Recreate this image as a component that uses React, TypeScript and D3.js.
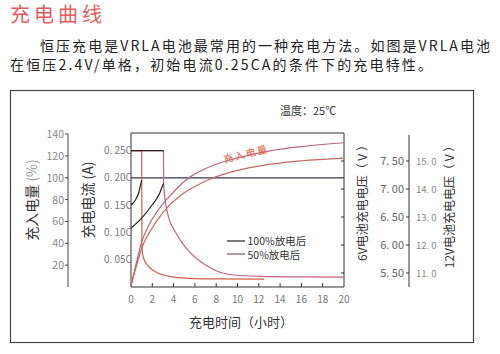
import React, { useEffect, useRef } from 'react';
import * as d3 from 'd3';

const W = 500;
const H = 354;
const FONT = '"Noto Sans CJK SC", "Noto Sans", sans-serif';

// tick values
const hourTicks = [0, 2, 4, 6, 8, 10, 12, 14, 16, 18, 20];
const chargeTicks = [20, 40, 60, 80, 100, 120, 140];
const currentTicks = [0.05, 0.1, 0.15, 0.2, 0.25];
const volt6Ticks = [5.5, 6.0, 6.5, 7.0, 7.5];
const volt12Ticks = [11, 12, 13, 14, 15];

// charged amount (%) vs hours
const chargeA: [number, number][] = [
  [0, 1], [0.5, 22], [1.0, 41], [1.65, 56], [2.3, 67], [3.07, 77], [3.73, 84], [4.5, 92],
  [5.3, 99], [6.5, 106], [7.5, 110.5], [9, 115.5], [11.3, 121], [13, 124.5], [16, 128.5], [20, 132]
];
const chargeB: [number, number][] = [
  [0, 1], [0.5, 19], [1.0, 35.5], [1.96, 53.5], [3.07, 69], [4.67, 84], [6, 92], [7.5, 99],
  [9.7, 106], [12.8, 112], [16, 115.5], [20, 118]
];

// charge current (CA) vs hours
const current50: [number, number][] = [
  [0, 0.25], [1.0, 0.25], [1.03, 0.07], [1.3, 0.047], [2.3, 0.028], [3.5, 0.02],
  [5.4, 0.016], [8, 0.015], [12.5, 0.0145]
];
const current100: [number, number][] = [
  [0, 0.25], [3.05, 0.25], [3.07, 0.185], [3.5, 0.13], [4.2, 0.1], [5.1, 0.073], [6.3, 0.05],
  [7.2, 0.038], [8.1, 0.029], [9.7, 0.022], [12.2, 0.0195], [16, 0.0185], [20, 0.018]
];

// 6V battery voltage vs hours
const voltage50: [number, number][] = [[0, 6.71], [0.4, 6.8], [0.7, 6.92], [1.0, 7.16]];
const voltage100: [number, number][] = [[0, 6.3], [1.0, 6.48], [1.96, 6.71], [2.6, 6.89], [3.05, 7.1]];
const voltageCV: [number, number][] = [[0, 7.2], [20, 7.2]];

const legendItems = ['100%放电后', '50%放电后'];

const ChargeChart: React.FC = () => {
  const svgRef = useRef<SVGSVGElement>(null);

  useEffect(() => {
    if (!svgRef.current) return;
    const svg = d3.select(svgRef.current);
    svg.selectAll('*').remove();

    const x = d3.scaleLinear().domain([0, 20]).range([131, 344]);
    const yCharge = d3.scaleLinear().domain([0, 140]).range([287, 134]);
    const yCurrent = d3.scaleLinear().domain([0, 0.25]).range([287, 150.7]);
    const yV6 = d3.scaleLinear().domain([5.5, 7.5]).range([273, 161]);
    const yV12 = d3.scaleLinear().domain([11, 15]).range([273, 161]);

    // header texts
    svg.append('text')
      .attr('x', 10).attr('y', 22)
      .attr('textLength', 92).attr('lengthAdjust', 'spacing')
      .style('font-size', '20px').style('fill', '#e05c60')
      .text('充电曲线');
    svg.append('text')
      .attr('x', 40).attr('y', 51)
      .attr('textLength', 450).attr('lengthAdjust', 'spacing')
      .style('font-size', '14px').style('fill', '#222')
      .text('恒压充电是VRLA电池最常用的一种充电方法。如图是VRLA电池');
    svg.append('text')
      .attr('x', 10).attr('y', 70)
      .attr('textLength', 422).attr('lengthAdjust', 'spacing')
      .style('font-size', '14px').style('fill', '#222')
      .text('在恒压2.4V/单格，初始电流0.25CA的条件下的充电特性。');

    // outer frame
    svg.append('rect')
      .attr('x', 10.5).attr('y', 90.5).attr('width', 463).attr('height', 252)
      .style('fill', 'none').style('stroke', '#444').style('stroke-width', 1.2);

    svg.append('text')
      .attr('x', 280).attr('y', 115)
      .style('font-size', '11px').style('fill', '#333')
      .text('温度：25℃');

    // plot box
    const box = svg.append('g').style('stroke', '#333').style('stroke-width', 1);
    box.append('line').attr('x1', x(0)).attr('x2', x(20)).attr('y1', 133).attr('y2', 133);
    box.append('line').attr('x1', x(0)).attr('x2', x(0)).attr('y1', 133).attr('y2', 287);
    box.append('line').attr('x1', x(20)).attr('x2', x(20)).attr('y1', 133).attr('y2', 287);
    box.append('line').attr('x1', x(0)).attr('x2', x(20)).attr('y1', 287).attr('y2', 287);

    // x ticks + labels
    svg.append('g').selectAll('line')
      .data(hourTicks.filter(d => d > 0 && d < 20))
      .join('line')
      .attr('x1', d => x(d)).attr('x2', d => x(d))
      .attr('y1', 287).attr('y2', 283)
      .style('stroke', '#333');
    svg.append('g').selectAll('text')
      .data(hourTicks)
      .join('text')
      .attr('x', d => x(d)).attr('y', 303)
      .attr('text-anchor', 'middle')
      .style('font-size', '10px').style('fill', '#777')
      .text(d => String(d));
    svg.append('text')
      .attr('x', 241).attr('y', 327)
      .attr('text-anchor', 'middle')
      .style('font-size', '13px').style('fill', '#333')
      .text('充电时间（小时）');

    // right side ticks of plot box
    svg.append('g').selectAll('line')
      .data(volt6Ticks)
      .join('line')
      .attr('x1', x(20) - 3).attr('x2', x(20))
      .attr('y1', d => yV6(d)).attr('y2', d => yV6(d))
      .style('stroke', '#333');

    // charge % axis
    const left = svg.append('g');
    left.append('line')
      .attr('x1', 68).attr('x2', 68).attr('y1', yCharge(140)).attr('y2', 287)
      .style('stroke', '#444');
    left.selectAll('line.t')
      .data(chargeTicks)
      .join('line')
      .attr('class', 't')
      .attr('x1', 65).attr('x2', 68)
      .attr('y1', d => yCharge(d)).attr('y2', d => yCharge(d))
      .style('stroke', '#444');
    left.selectAll('text')
      .data(chargeTicks)
      .join('text')
      .attr('x', 64).attr('y', d => yCharge(d) + 4)
      .attr('text-anchor', 'end')
      .style('font-size', '10.5px').style('fill', '#888')
      .text(d => String(d));
    const chargeLabel = svg.append('text')
      .attr('transform', 'translate(37,200) rotate(-90)')
      .attr('text-anchor', 'middle')
      .style('font-size', '14px').style('fill', '#333');
    chargeLabel.append('tspan').text('充入电量 ');
    chargeLabel.append('tspan').style('fill', '#999').text('(%)');

    // current axis labels
    svg.append('g').selectAll('text')
      .data(currentTicks)
      .join('text')
      .attr('x', x(0) + 1).attr('y', d => yCurrent(d) + 3.5)
      .attr('text-anchor', 'end')
      .style('font-size', '10px').style('fill', '#777')
      .text(d => d.toFixed(2).replace('.', '. ') + 'C');
    svg.append('text')
      .attr('transform', 'translate(93,200) rotate(-90)')
      .attr('text-anchor', 'middle')
      .style('font-size', '14px').style('fill', '#333')
      .text('充电电流 (A)');

    // voltage axis
    const vAxis = svg.append('g');
    vAxis.append('line')
      .attr('x1', 409).attr('x2', 409).attr('y1', 135).attr('y2', 287)
      .style('stroke', '#333');
    vAxis.selectAll('line.t')
      .data(volt6Ticks)
      .join('line')
      .attr('class', 't')
      .attr('x1', 406).attr('x2', 409)
      .attr('y1', d => yV6(d)).attr('y2', d => yV6(d))
      .style('stroke', '#333');
    vAxis.selectAll('text.v6')
      .data(volt6Ticks)
      .join('text')
      .attr('class', 'v6')
      .attr('x', 404).attr('y', d => yV6(d) + 4)
      .attr('text-anchor', 'end')
      .style('font-size', '11px').style('fill', '#666')
      .text(d => d.toFixed(2).replace('.', '. '));
    vAxis.selectAll('text.v12')
      .data(volt12Ticks)
      .join('text')
      .attr('class', 'v12')
      .attr('x', 416).attr('y', d => yV12(d) + 4)
      .style('font-size', '9.5px').style('fill', '#888')
      .text(d => d.toFixed(1).replace('.', '. '));
    svg.append('text')
      .attr('transform', 'translate(367,200) rotate(-90)')
      .attr('text-anchor', 'middle')
      .style('font-size', '12px').style('fill', '#333')
      .text('6V电池充电电压（ V ）');
    svg.append('text')
      .attr('transform', 'translate(454,204) rotate(-90)')
      .attr('text-anchor', 'middle')
      .style('font-size', '12px').style('fill', '#333')
      .text('12V电池充电电压（ V ）');

    // curves
    const lineCharge = d3.line<[number, number]>()
      .x(d => x(d[0])).y(d => yCharge(d[1])).curve(d3.curveMonotoneX);
    const lineCurrent = d3.line<[number, number]>()
      .x(d => x(d[0])).y(d => yCurrent(d[1])).curve(d3.curveMonotoneX);
    const lineVolt = d3.line<[number, number]>()
      .x(d => x(d[0])).y(d => yV6(d[1])).curve(d3.curveMonotoneX);

    const curves = svg.append('g').style('fill', 'none').style('stroke-width', 1.2);
    curves.append('path').attr('d', lineVolt(voltageCV)).style('stroke', '#3a3550');
    curves.append('path').attr('d', lineCharge(chargeA)).style('stroke', '#b8647c');
    curves.append('path').attr('d', lineCharge(chargeB)).style('stroke', '#c26a62');
    curves.append('path').attr('d', lineCurrent(current50)).style('stroke', '#d0604c');
    curves.append('path').attr('d', lineCurrent(current100)).style('stroke', '#c2667a');
    curves.append('path')
      .attr('d', lineCurrent(current100.filter(d => d[1] >= 0.25)))
      .style('stroke', '#222');
    curves.append('path').attr('d', lineVolt(voltage50)).style('stroke', '#222');
    curves.append('path').attr('d', lineVolt(voltage100)).style('stroke', '#222');

    // label along the upper charge curve
    const labelT = 10.8;
    const labelY = yCharge(121.2);
    svg.append('text')
      .attr('transform', `translate(${x(labelT)},${labelY}) rotate(-14)`)
      .attr('text-anchor', 'middle')
      .attr('dy', 3)
      .style('font-size', '10px').style('fill', '#e2583a')
      .style('letter-spacing', '1.5px')
      .text('充入电量');

    // legend
    const legendColors = ['#222', '#7a5a5a'];
    const legend = svg.append('g');
    legend.selectAll('line')
      .data(legendItems)
      .join('line')
      .attr('x1', 227).attr('x2', 245)
      .attr('y1', (_, i) => 241 + i * 13).attr('y2', (_, i) => 241 + i * 13)
      .style('stroke', (_, i) => legendColors[i]).style('stroke-width', 1.2);
    legend.selectAll('text')
      .data(legendItems)
      .join('text')
      .attr('x', 247.5).attr('y', (_, i) => 245 + i * 14)
      .style('font-size', '10.5px').style('fill', '#333')
      .text(d => d);
  }, []);

  return (
    <div style={{ position: 'absolute', left: 0, top: 0 }}>
      <svg
        ref={svgRef}
        width={W}
        height={H}
        style={{ display: 'block', background: '#fff', fontFamily: FONT }}
      />
    </div>
  );
};

export default ChargeChart;
